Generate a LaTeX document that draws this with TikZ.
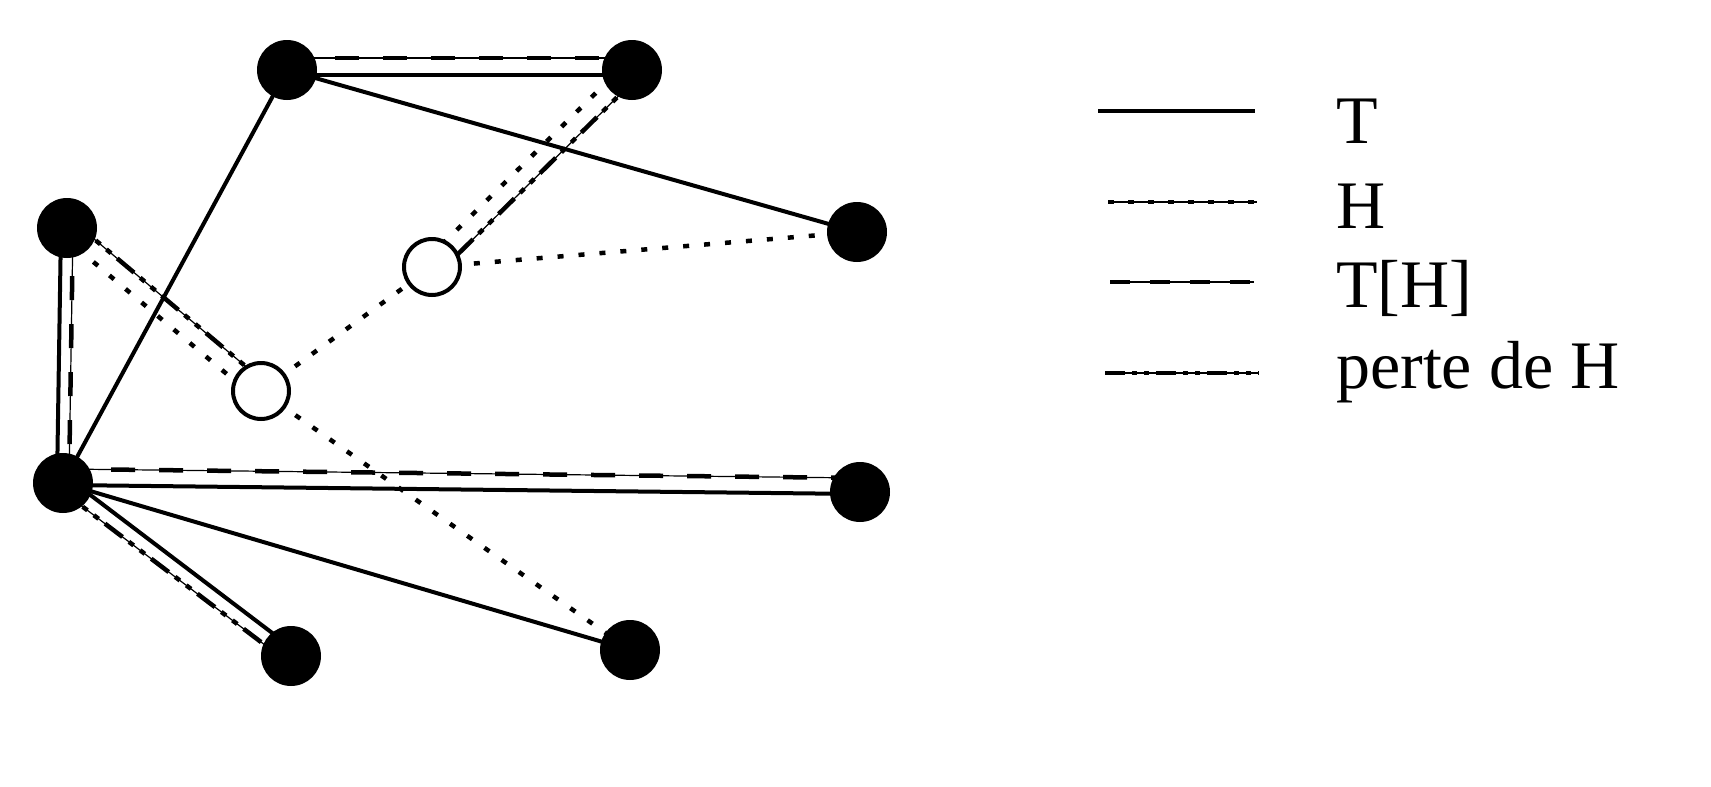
\documentclass[tikz,border=0pt]{standalone}
\usepackage{fontspec}
\setmainfont{Liberation Serif}
\usetikzlibrary{calc}
\begin{document}
\begin{tikzpicture}[x=1pt,y=-1pt,
  blk/.style={circle,fill=black,minimum size=60pt,inner sep=0pt},
  opn/.style={circle,draw=black,line width=4pt,fill=white,minimum size=56pt,inner sep=0pt},
  Tl/.style={line width=4pt},
  Hl/.style={line width=4.5pt,dash pattern=on 6pt off 15pt},
  THthin/.style={line width=1.2pt},
  THl/.style={line width=4.5pt,dash pattern=on 24pt off 24pt},
  PHl/.style={line width=4.5pt,dash pattern=on 22pt off 8pt on 6pt off 8pt on 6pt off 8pt},
  lbl/.style={anchor=base west,inner sep=0pt,font=\fontsize{68}{80}\selectfont}]
\useasboundingbox (0,0) rectangle (1711,787);
\coordinate (A) at (287,70);
\coordinate (B) at (632,70);
\coordinate (C) at (857,232);
\coordinate (D) at (67,228);
\coordinate (E) at (63,483);
\coordinate (F) at (860,492);
\coordinate (G) at (291,656);
\coordinate (I) at (630,650);
\coordinate (P) at (432,267);
\coordinate (Q) at (261,391);
\newcommand\offpair[4]{%
  \coordinate (#4a) at ($(#1)!#3!90:(#2)$);
  \coordinate (#4b) at ($(#2)!#3!-90:(#1)$);}
\draw[Tl] (A) -- (C);
\draw[Tl] (A) -- (E);
\draw[Tl] (E) -- (I);
\draw[Hl] (Q) -- (P);
\draw[Hl] (P) -- (C);
\draw[Hl] (Q) -- (I);
% A-B
\offpair{A}{B}{12pt}{ab1}\offpair{A}{B}{-5pt}{ab2}
\draw[THthin] (ab1a) -- (ab1b); \draw[THl] (ab1a) -- (ab1b);
\draw[Tl] (ab2a) -- (ab2b);
% D-E
\offpair{D}{E}{-6pt}{de1}\offpair{D}{E}{6pt}{de2}
\draw[Tl] (de1a) -- (de1b);
\draw[THthin] (de2a) -- (de2b); \draw[THl] (de2a) -- (de2b);
% E-F
\offpair{E}{F}{14pt}{ef1}\offpair{E}{F}{-2pt}{ef2}
\draw[THthin] (ef1a) -- (ef1b); \draw[THl] (ef1a) -- (ef1b);
\draw[Tl] (ef2a) -- (ef2b);
% E-G
\offpair{E}{G}{7pt}{eg1}\offpair{E}{G}{-7pt}{eg2}
\draw[Tl] (eg1a) -- (eg1b);
\draw[THthin] (eg2a) -- (eg2b); \draw[PHl] (eg2a) -- (eg2b);
% D-Q
\offpair{D}{Q}{9pt}{dq1}\offpair{D}{Q}{-9pt}{dq2}
\draw[THthin] (dq1a) -- (dq1b); \draw[PHl] (dq1a) -- (dq1b);
\draw[Hl] (dq2a) -- (dq2b);
% B-P
\offpair{B}{P}{9pt}{bp1}\offpair{B}{P}{-9pt}{bp2}
\draw[THthin] (bp1a) -- (bp1b); \draw[PHl] (bp1a) -- (bp1b);
\draw[Hl] (bp2a) -- (bp2b);
\foreach \n in {A,B,C,D,E,F,G,I} \node[blk] (n\n) at (\n) {};
\node[opn] (nP) at (P) {};
\node[opn] (nQ) at (Q) {};
% legend
\coordinate (l1a) at (1098,111); \coordinate (l1b) at (1255,111);
\coordinate (l2a) at (1108,202); \coordinate (l2b) at (1257,202);
\coordinate (l3a) at (1110,282); \coordinate (l3b) at (1254,282);
\coordinate (l4a) at (1105,373); \coordinate (l4b) at (1259,373);
\draw[Tl] (l1a) -- (l1b);
\draw[THthin] (l2a) -- (l2b); \draw[line width=4pt,dash pattern=on 6pt off 14pt] (l2a) -- (l2b);
\draw[THthin] (l3a) -- (l3b); \draw[THl,dash pattern=on 20pt off 20pt] (l3a) -- (l3b);
\draw[THthin] (l4a) -- (l4b); \draw[line width=4pt,dash pattern=on 20pt off 7pt on 5pt off 7pt on 5pt off 7pt] (l4a) -- (l4b);
\node[lbl] (t1) at (1336,143) {T};
\node[lbl] (t2) at (1336,228) {H};
\node[lbl] (t3) at (1336,307) {T[H]};
\node[lbl] (t4) at (1336,388) {perte de H};
\end{tikzpicture}
\end{document}
